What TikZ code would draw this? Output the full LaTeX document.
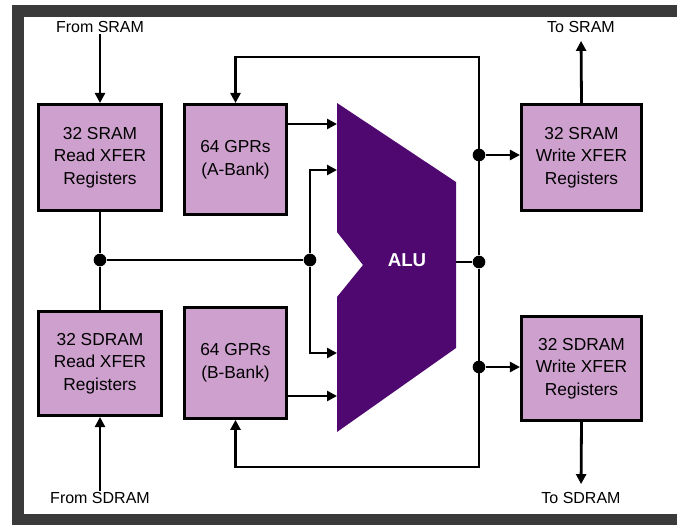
\documentclass[tikz,border=0pt]{standalone}
\usepackage{fontspec}
\setmainfont{Liberation Sans}
\usetikzlibrary{arrows.meta,positioning}
\definecolor{regfill}{RGB}{206,160,206}
\definecolor{alupurple}{RGB}{78,8,112}
\definecolor{framegray}{RGB}{58,58,58}

\begin{document}
\begin{tikzpicture}[
  x=0.75pt, y=-0.75pt,
  reg/.style={draw, line width=2.3pt, fill=regfill, align=center,
              font=\fontsize{13}{17}\selectfont, inner sep=2pt},
  lbl/.style={font=\fontsize{12}{14}\selectfont, inner sep=1pt},
  wire/.style={line width=2.1pt},
  dot/.style={circle, fill=black, inner sep=0pt, minimum size=9.5pt},
  >={Triangle[length=7.5pt,width=7.5pt]}]
  \useasboundingbox (0,0) rectangle (677,525);
  % frame
  \fill[white] (0,0) rectangle (677,525);
  \fill[framegray] (12,5) rectangle (677,525);
  \fill[white] (24,17) rectangle (677,514);

  % register files
  \node[reg, minimum width=92pt, minimum height=79.5pt] (sramrd) at (100,157.5)
      {32 SRAM\\ Read XFER\\ Registers};
  \node[reg, minimum width=92pt, minimum height=78pt] (sdramrd) at (100,363.5)
      {32 SDRAM\\ Read XFER\\ Registers};
  \node[reg, minimum width=76.5pt, minimum height=82.5pt] (abank) at (235.5,159.5)
      {64 GPRs\\ (A-Bank)};
  \node[reg, minimum width=76.5pt, minimum height=83pt] (bbank) at (235.5,363)
      {64 GPRs\\ (B-Bank)};
  \node[reg, minimum width=90pt, minimum height=79.5pt] (sramwr) at (581.5,157.5)
      {32 SRAM\\ Write XFER\\ Registers};
  \node[reg, minimum width=90pt, minimum height=78pt] (sdramwr) at (581.5,368.5)
      {32 SDRAM\\ Write XFER\\ Registers};

  % ALU
  \fill[alupurple] (337,103) -- (456,182) -- (456,348) -- (337,432)
      -- (337,297) -- (363,265) -- (337,232) -- cycle;
  \node[text=white, font=\fontsize{14}{16}\selectfont\bfseries] (alu) at (407,260) {ALU};
  \coordinate (alu-a) at (337,124);
  \coordinate (alu-b1) at (337,170);
  \coordinate (alu-b2) at (337,353);
  \coordinate (alu-c) at (337,396);
  \coordinate (alu-out) at (456,262);

  % outside labels
  \node[lbl] (fromsram) at (100,27) {From SRAM};
  \node[lbl] (fromsdram) at (100,498) {From SDRAM};
  \node[lbl] (tosram) at (581,27) {To SRAM};
  \node[lbl] (tosdram) at (581,498) {To SDRAM};

  % junctions
  \node[dot] (jl) at (100,260) {};
  \node[dot] (jm) at (310,260) {};
  \node[dot] (jo) at (479,262) {};
  \node[dot] (jw1) at (479,155) {};
  \node[dot] (jw2) at (479,367) {};
  \coordinate (bustop) at (479,57);
  \coordinate (busbot) at (479,467);

  % read side
  \draw[wire,->] (fromsram.south) -- (sramrd.north);
  \draw[wire,->] (fromsdram.north) -- (sdramrd.south);
  \draw[wire] (sramrd.south) -- (jl);
  \draw[wire] (jl) -- (sdramrd.north);
  \draw[wire] (jl) -- (jm);
  \draw[wire,->] (jm) |- (alu-b1);
  \draw[wire,->] (jm) |- (alu-b2);
  \draw[wire,->] (abank.east |- alu-a) -- (alu-a);
  \draw[wire,->] (bbank.east |- alu-c) -- (alu-c);

  % result bus
  \draw[wire] (alu-out) -- (jo);
  \draw[wire,->] (jo) -- (bustop) -| (abank.north);
  \draw[wire,->] (jo) -- (busbot) -| (bbank.south);
  \draw[wire,->] (jw1) -- (sramwr.west |- jw1);
  \draw[wire,->] (jw2) -- (sdramwr.west |- jw2);
  \draw[wire,->, shorten >=5pt] (sramwr.north) -- (tosram.south);
  \draw[wire,->, shorten >=5pt] (sdramwr.south) -- (tosdram.north);
\end{tikzpicture}
\end{document}
